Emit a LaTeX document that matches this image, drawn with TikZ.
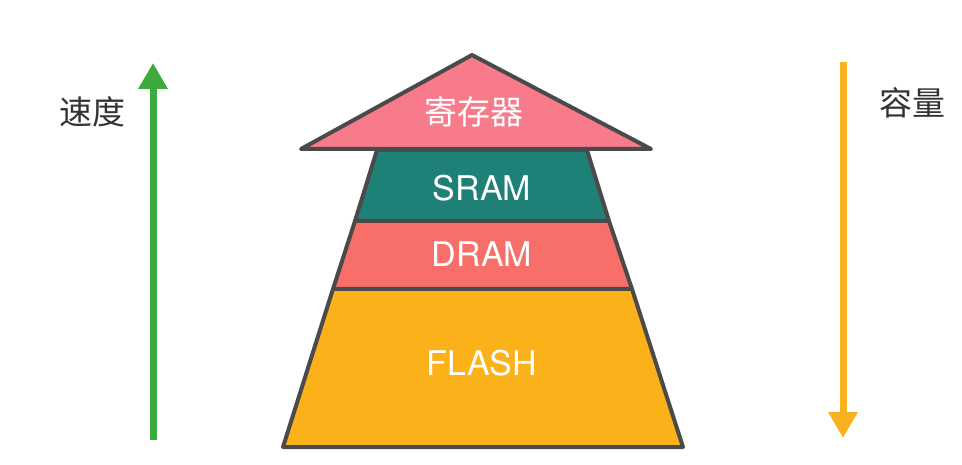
\documentclass[tikz,border=0pt]{standalone}
\usepackage{fontspec}
\setmainfont{TeX Gyre Heros}
\newfontfamily\cjk{Noto Sans CJK SC}
\usetikzlibrary{arrows.meta}
\definecolor{outl}{HTML}{4A4A4A}
\definecolor{regc}{HTML}{F87B8C}
\definecolor{sramc}{HTML}{1F8078}
\definecolor{dramc}{HTML}{F86F6A}
\definecolor{flashc}{HTML}{FBB21A}
\definecolor{greenc}{HTML}{3DAA3D}
\definecolor{orangec}{HTML}{F9B21E}
\definecolor{txtc}{HTML}{333333}
\tikzset{
  layer/.style={draw=outl, line width=4pt, line join=round},
  lbl/.style={text=white, font=\fontsize{34}{40}\selectfont, inner sep=0pt},
  cjklbl/.style={text=white, font=\cjk\fontsize{33}{40}\selectfont, inner sep=0pt},
  side/.style={text=txtc, font=\cjk\fontsize{33}{40}\selectfont, inner sep=0pt},
  bigarrow/.style={line width=7pt, -{Triangle[length=26pt,width=28pt]}}
}
\begin{document}
\begin{tikzpicture}[x=1pt,y=-1pt]
\useasboundingbox (0,0) rectangle (962,465);
% layers
\path[layer, fill=flashc] (333,289) -- (632,289) -- (683,447) -- (283,447) -- cycle;
\path[layer, fill=dramc] (355,221) -- (609,221) -- (632,289) -- (333,289) -- cycle;
\path[layer, fill=sramc] (377,150) -- (587,150) -- (609,221) -- (355,221) -- cycle;
\path[layer, fill=regc] (472,55) -- (651,149) -- (301,149) -- cycle;
% labels
\node[cjklbl] (reg) at (474,112) {寄存器};
\node[lbl] (sram) at (482,188) {SRAM};
\node[lbl] (dram) at (482,254) {DRAM};
\node[lbl] (flash) at (482,363) {FLASH};
% arrows
\coordinate (gs) at (153,440);
\coordinate (ge) at (153,63);
\draw[bigarrow, greenc] (gs) -- (ge);
\coordinate (os) at (843,62);
\coordinate (oe) at (843,438);
\draw[bigarrow, orangec] (os) -- (oe);
\node[side] (speed) at (92,112) {速度};
\node[side] (cap) at (912,103) {容量};
\end{tikzpicture}
\end{document}
